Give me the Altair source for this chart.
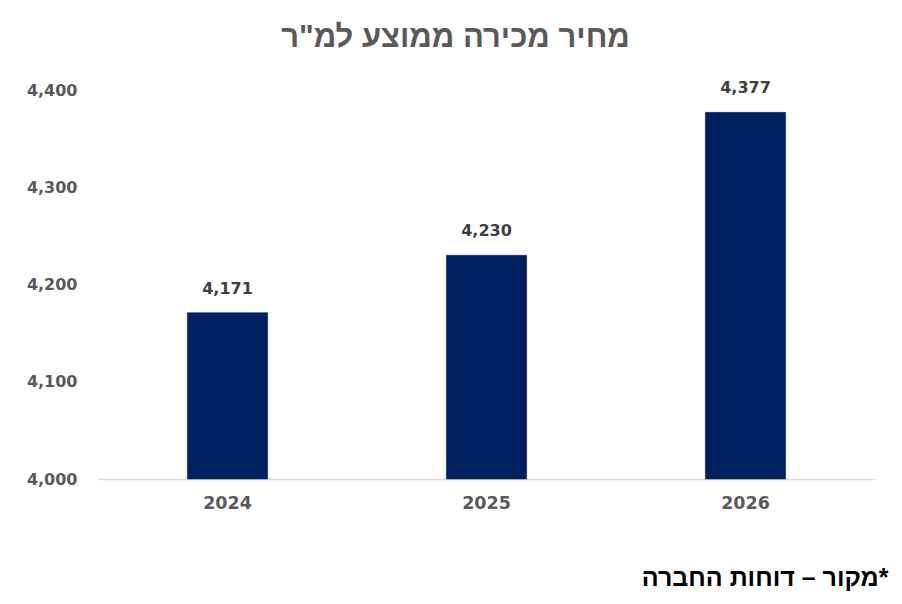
import altair as alt
import pandas as pd

years = ["2024", "2025", "2026"]
prices = [4171, 4230, 4377]
y_ticks = [4000, 4100, 4200, 4300, 4400]
title_text = 'מחיר מכירה ממוצע למ"ר'
source_text = "מקור – דוחות החברה*"

df = pd.DataFrame({"year": years, "price": prices})

num_font = "DejaVu Sans"

base = alt.Chart(df).encode(
    x=alt.X(
        "year:N",
        sort=years,
        scale=alt.Scale(paddingInner=0.69, paddingOuter=0.345),
        axis=alt.Axis(
            title=source_text,
            titleX=790,
            titleY=106,
            titleAlign="right",
            titleBaseline="alphabetic",
            titleFont="Liberation Sans",
            titleFontSize=25,
            titleFontWeight="bold",
            titleColor="#000000",
            labelAngle=0,
            labelFont=num_font,
            labelFontSize=17.5,
            labelFontWeight="bold",
            labelColor="#595959",
            labelPadding=15,
            ticks=False,
            domainColor="#d9d9d9",
            domainWidth=1.5,
            grid=False,
        ),
    ),
    y=alt.Y(
        "price:Q",
        scale=alt.Scale(domain=[4000, 4400], zero=False, clamp=True),
        axis=alt.Axis(
            title=None,
            values=y_ticks,
            format=",d",
            labelFont=num_font,
            labelFontSize=16,
            labelFontWeight="bold",
            labelColor="#595959",
            labelPadding=21,
            ticks=False,
            domain=False,
            grid=False,
        ),
    ),
)

bars = base.mark_bar(color="#002060", stroke="#001a4d", strokeWidth=0.5)
labels = base.mark_text(
    dy=-19,
    baseline="alphabetic",
    font=num_font,
    fontSize=16,
    fontWeight="bold",
    color="#404040",
).encode(text=alt.Text("price:Q", format=",d"))

chart = (
    (bars + labels)
    .properties(
        width=777,
        height=389,
        padding={"left": 90, "top": 82, "right": 19, "bottom": 117},
        autosize=alt.AutoSizeParams(type="none"),
        title=alt.TitleParams(
            text=title_text,
            font="Liberation Sans",
            fontSize=31,
            fontWeight="bold",
            color="#595959",
            anchor="middle",
            dx=-31,
            offset=26,
        ),
    )
    .configure_view(stroke=None)
)

chart.save("out.html", embed_options={"renderer": "svg", "actions": False})
